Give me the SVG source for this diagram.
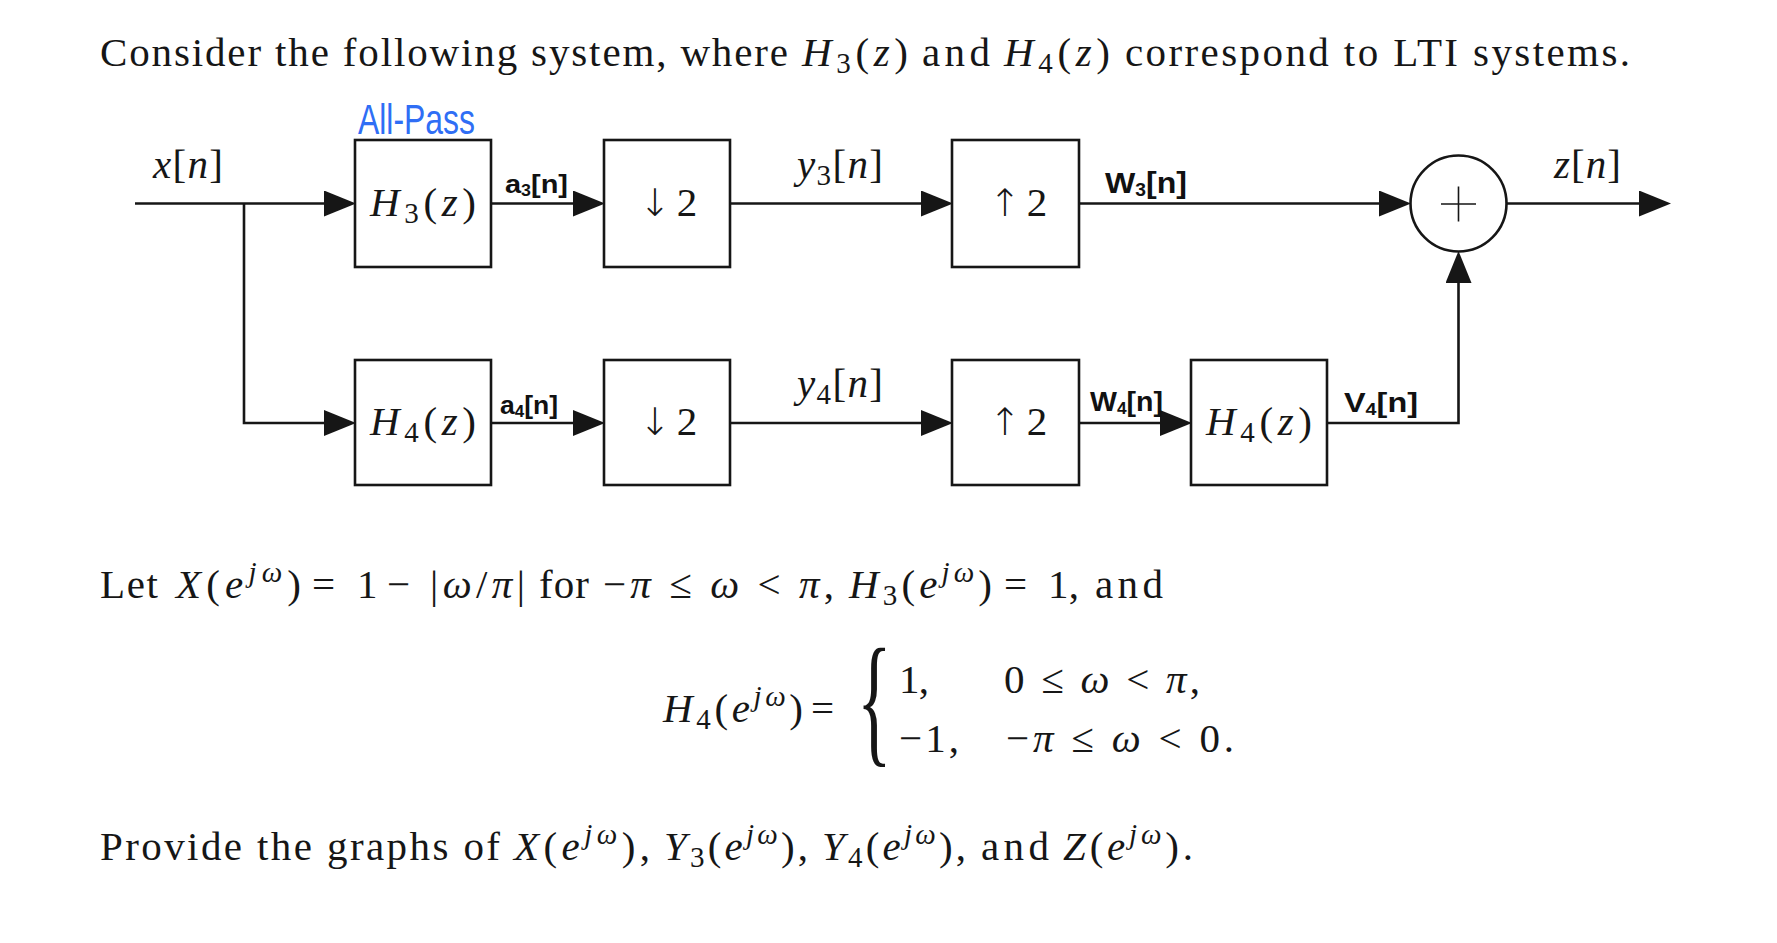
<svg xmlns="http://www.w3.org/2000/svg" width="1777" height="943" viewBox="0 0 1777 943">
<style>
.t{font-family:"Liberation Serif","DejaVu Serif",serif;font-size:41px;fill:#161616}
.i{font-style:italic}
.s{font-size:29px}
.ar{font-family:"DejaVu Sans","Liberation Sans",sans-serif;font-size:38px;font-weight:300}
.box{fill:#fff;stroke:#161616;stroke-width:2.6}
.wire{fill:none;stroke:#161616;stroke-width:2.6}
.hw{font-family:"Liberation Sans","DejaVu Sans",sans-serif;font-weight:bold;fill:#111}
.blue{font-family:"Liberation Sans","DejaVu Sans",sans-serif;fill:#2f6ef5}
</style>
<defs>
<marker id="ah" markerUnits="userSpaceOnUse" markerWidth="33" markerHeight="27" refX="25" refY="13" orient="auto">
<path d="M0,0 L32,13 L0,26 Z" fill="#161616"/>
</marker>
</defs>
<rect width="1777" height="943" fill="#fff"/>

<g id="title">
<text class="t" x="100" y="66" textLength="688">Consider the following system, where</text>
<text class="t" x="802" y="66" textLength="106"><tspan class="i">H</tspan><tspan class="s" dy="7">3</tspan><tspan dy="-7">(</tspan><tspan class="i">z</tspan>)</text>
<text class="t" x="922" y="66" textLength="68">and</text>
<text class="t" x="1004" y="66" textLength="106"><tspan class="i">H</tspan><tspan class="s" dy="7">4</tspan><tspan dy="-7">(</tspan><tspan class="i">z</tspan>)</text>
<text class="t" x="1125" y="66" textLength="505">correspond to LTI systems.</text>
</g>

<g id="connectors">
<path class="wire" d="M135,203.5 H349" marker-end="url(#ah)"/>
<path class="wire" d="M491,203.5 H598" marker-end="url(#ah)"/>
<path class="wire" d="M730,203.5 H946" marker-end="url(#ah)"/>
<path class="wire" d="M1079,203.5 H1404" marker-end="url(#ah)"/>
<path class="wire" d="M1507,203.5 H1664" marker-end="url(#ah)"/>
<path class="wire" d="M244,203.5 V423 H349" marker-end="url(#ah)"/>
<path class="wire" d="M491,423 H598" marker-end="url(#ah)"/>
<path class="wire" d="M730,423 H946" marker-end="url(#ah)"/>
<path class="wire" d="M1079,423 H1185" marker-end="url(#ah)"/>
<path class="wire" d="M1327,423 H1458.5 V258" marker-end="url(#ah)"/>
</g>

<g id="labels">
<text class="t" x="153" y="178" textLength="70"><tspan class="i">x</tspan>[<tspan class="i">n</tspan>]</text>
<text class="t" x="797" y="178" textLength="86"><tspan class="i">y</tspan><tspan class="s" dy="7">3</tspan><tspan dy="-7">[</tspan><tspan class="i">n</tspan>]</text>
<text class="t" x="797" y="397" textLength="86"><tspan class="i">y</tspan><tspan class="s" dy="7">4</tspan><tspan dy="-7">[</tspan><tspan class="i">n</tspan>]</text>
<text class="t" x="1554" y="178" textLength="67"><tspan class="i">z</tspan>[<tspan class="i">n</tspan>]</text>
<text class="blue" x="358" y="134" font-size="42" textLength="117" lengthAdjust="spacingAndGlyphs">All-Pass</text>
<text class="hw" x="505" y="193" font-size="26" textLength="63" lengthAdjust="spacingAndGlyphs">a<tspan font-size="16" dy="3">3</tspan><tspan dy="-3">[n]</tspan></text>
<text class="hw" x="500" y="414" font-size="25" textLength="58" lengthAdjust="spacingAndGlyphs">a<tspan font-size="16" dy="3">4</tspan><tspan dy="-3">[n]</tspan></text>
<text class="hw" x="1105" y="193" font-size="30" textLength="82" lengthAdjust="spacingAndGlyphs">W<tspan font-size="18" dy="3">3</tspan><tspan dy="-3">[n]</tspan></text>
<text class="hw" x="1090" y="411" font-size="28" textLength="73" lengthAdjust="spacingAndGlyphs">W<tspan font-size="17" dy="3">4</tspan><tspan dy="-3">[n]</tspan></text>
<text class="hw" x="1344" y="412" font-size="28" textLength="74" lengthAdjust="spacingAndGlyphs">V<tspan font-size="17" dy="3">4</tspan><tspan dy="-3">[n]</tspan></text>
</g>

<g id="H3">
<rect class="box" x="355" y="140" width="136" height="127"/>
<text class="t" x="370" y="216" textLength="106"><tspan class="i">H</tspan><tspan class="s" dy="7">3</tspan><tspan dy="-7">(</tspan><tspan class="i">z</tspan>)</text>
</g>
<g id="down3">
<rect class="box" x="604" y="140" width="126" height="127"/>
<text class="t" x="639" y="216"><tspan class="ar">↓</tspan><tspan dx="6">2</tspan></text>
</g>
<g id="up3">
<rect class="box" x="952" y="140" width="127" height="127"/>
<text class="t" x="989" y="216"><tspan class="ar">↑</tspan><tspan dx="6">2</tspan></text>
</g>
<g id="sum">
<circle cx="1458.5" cy="203.5" r="48" fill="#fff" stroke="#161616" stroke-width="2.6"/>
<path d="M1441,204 H1476 M1458.5,186.5 V221.5" stroke="#161616" stroke-width="1.6"/>
</g>
<g id="H4a">
<rect class="box" x="355" y="360" width="136" height="125"/>
<text class="t" x="370" y="435" textLength="106"><tspan class="i">H</tspan><tspan class="s" dy="7">4</tspan><tspan dy="-7">(</tspan><tspan class="i">z</tspan>)</text>
</g>
<g id="down4">
<rect class="box" x="604" y="360" width="126" height="125"/>
<text class="t" x="639" y="435"><tspan class="ar">↓</tspan><tspan dx="6">2</tspan></text>
</g>
<g id="up4">
<rect class="box" x="952" y="360" width="127" height="125"/>
<text class="t" x="989" y="435"><tspan class="ar">↑</tspan><tspan dx="6">2</tspan></text>
</g>
<g id="H4b">
<rect class="box" x="1191" y="360" width="136" height="125"/>
<text class="t" x="1206" y="435" textLength="106"><tspan class="i">H</tspan><tspan class="s" dy="7">4</tspan><tspan dy="-7">(</tspan><tspan class="i">z</tspan>)</text>
</g>

<g id="line2">
<text class="t" x="100" y="598" textLength="58">Let</text>
<text class="t" x="176" y="598" textLength="125"><tspan class="i">X</tspan>(<tspan class="i">e</tspan><tspan class="s i" dy="-16">jω</tspan><tspan dy="16">)</tspan></text>
<text class="t" x="312" y="598" textLength="33">=</text>
<text class="t" x="357" y="598" textLength="21">1</text>
<text class="t" x="387" y="598" textLength="33">−</text>
<text class="t" x="430" y="598" textLength="95">|<tspan class="i">ω</tspan>/<tspan class="i">π</tspan>|</text>
<text class="t" x="539" y="598" textLength="50">for</text>
<text class="t" x="603" y="598" textLength="231">−<tspan class="i">π</tspan> ≤ <tspan class="i">ω</tspan> &lt; <tspan class="i">π</tspan>,</text>
<text class="t" x="849" y="598" textLength="143"><tspan class="i">H</tspan><tspan class="s" dy="7">3</tspan><tspan dy="-7">(</tspan><tspan class="i">e</tspan><tspan class="s i" dy="-16">jω</tspan><tspan dy="16">)</tspan></text>
<text class="t" x="1004" y="598" textLength="33">=</text>
<text class="t" x="1048" y="598" textLength="31">1,</text>
<text class="t" x="1095" y="598" textLength="68">and</text>
</g>

<g id="piecewise">
<text class="t" x="663" y="722" textLength="140"><tspan class="i">H</tspan><tspan class="s" dy="7">4</tspan><tspan dy="-7">(</tspan><tspan class="i">e</tspan><tspan class="s i" dy="-16">jω</tspan><tspan dy="16">)</tspan></text>
<text class="t" x="811" y="722" textLength="33">=</text>
<text class="t" x="0" y="0" style="font-size:144px" transform="translate(857,748) scale(0.5,1)">{</text>
<text class="t" x="899" y="693" textLength="30">1,</text>
<text class="t" x="1004" y="693" textLength="196">0 ≤ <tspan class="i">ω</tspan> &lt; <tspan class="i">π</tspan>,</text>
<text class="t" x="899" y="752" textLength="60">−1,</text>
<text class="t" x="1006" y="752" textLength="228">−<tspan class="i">π</tspan> ≤ <tspan class="i">ω</tspan> &lt; 0.</text>
</g>

<g id="line4">
<text class="t" x="100" y="860" textLength="400">Provide the graphs of</text>
<text class="t" x="514" y="860" textLength="136"><tspan class="i">X</tspan>(<tspan class="i">e</tspan><tspan class="s i" dy="-16">jω</tspan><tspan dy="16">),</tspan></text>
<text class="t" x="664" y="860" textLength="144"><tspan class="i">Y</tspan><tspan class="s" dy="7">3</tspan><tspan dy="-7">(</tspan><tspan class="i">e</tspan><tspan class="s i" dy="-16">jω</tspan><tspan dy="16">),</tspan></text>
<text class="t" x="822" y="860" textLength="144"><tspan class="i">Y</tspan><tspan class="s" dy="7">4</tspan><tspan dy="-7">(</tspan><tspan class="i">e</tspan><tspan class="s i" dy="-16">jω</tspan><tspan dy="16">),</tspan></text>
<text class="t" x="981" y="860" textLength="68">and</text>
<text class="t" x="1063" y="860" textLength="130"><tspan class="i">Z</tspan>(<tspan class="i">e</tspan><tspan class="s i" dy="-16">jω</tspan><tspan dy="16">).</tspan></text>
</g>
</svg>
